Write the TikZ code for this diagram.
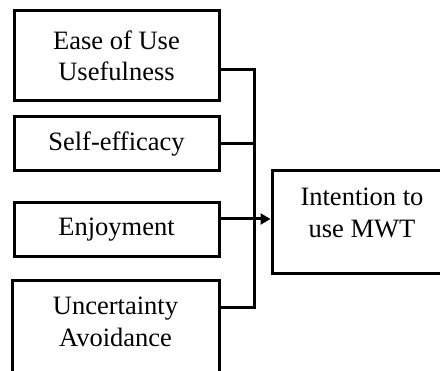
\documentclass[tikz,border=0pt]{standalone}
\usepackage{fontspec}
\setmainfont{Liberation Serif}
\usetikzlibrary{arrows.meta}
\begin{document}
\begin{tikzpicture}[x=1pt,y=-1pt, line join=miter,
    font=\fontsize{26.5}{31.5}\selectfont,
    factor/.style={draw, line width=3pt, align=center, inner sep=0pt, minimum width=205pt},
    link/.style={line width=3pt},
    arr/.style={line width=3pt, -{Triangle[length=10pt,width=11pt]}}]
    \clip (0,0) rectangle (440,371);
    % factors
    \node[factor, minimum height=90pt] (ease) at (116.5,56) {Ease of Use\\Usefulness};
    \node[factor, minimum height=54pt] (self) at (116.5,144) {Self-efficacy};
    \node[factor, minimum height=54pt] (enjoy) at (116.5,230) {Enjoyment};
    \node[factor, minimum height=95pt, minimum width=207pt, text depth=14pt] (unc) at (115.5,328.5) {Uncertainty\\Avoidance};
    % outcome
    \node[factor, minimum height=103pt, minimum width=180pt, text depth=20pt] (intent) at (362,222.5) {Intention to\\use MWT};
    \coordinate (bus) at (254,0);
    % connectors
    \draw[link] ([yshift=-14pt]ease.east) -| (bus |- 0,308) -- (unc.east |- 0,308);
    \draw[link] (self.east) -- (self.east -| bus);
    \draw[arr] ([yshift=11pt]enjoy.east) -- ([yshift=11pt]enjoy.east -| intent.west);
\end{tikzpicture}
\end{document}
